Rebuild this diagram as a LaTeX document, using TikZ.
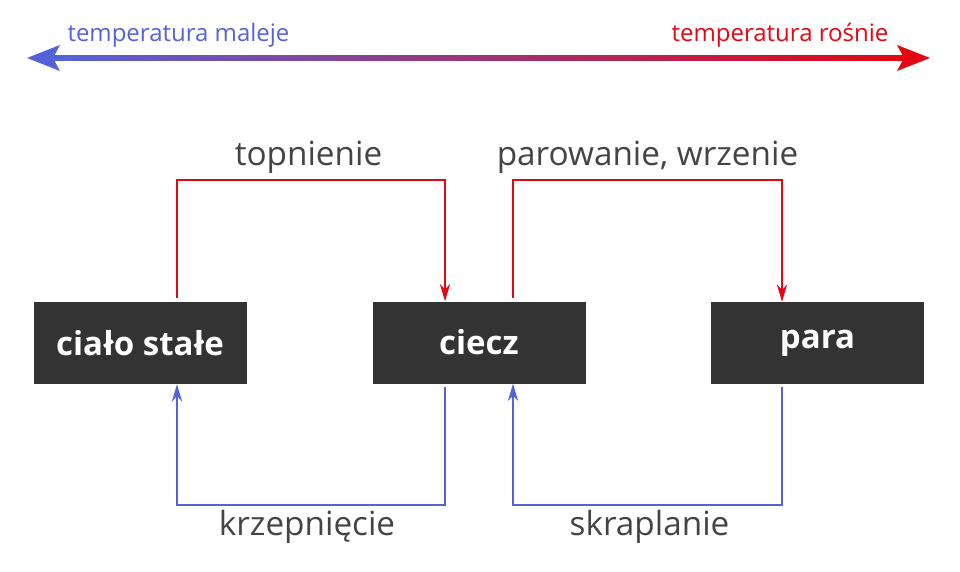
\documentclass[tikz,border=0pt]{standalone}
\usepackage{fontspec}
\setmainfont{Open Sans}
\usetikzlibrary{arrows.meta,calc}
\definecolor{tblue}{HTML}{5563DA}
\definecolor{tred}{HTML}{E30613}
\definecolor{boxc}{HTML}{333333}
\definecolor{labc}{HTML}{444444}
\tikzset{
  state/.style={rectangle, fill=boxc, draw=none, minimum width=213pt, minimum height=82pt,
    inner sep=0pt, text=white, font=\fontsize{33}{40}\selectfont\bfseries},
  proc/.style={inner sep=0pt, anchor=base, text=labc, font=\fontsize{33.3}{40}\selectfont},
  templab/.style={inner sep=0pt, anchor=base, font=\fontsize{24}{29}\selectfont},
  heat/.style={draw=tred, line width=2.2pt, -{Stealth[length=17pt,width=10pt,inset=5pt]}},
  cool/.style={draw=tblue, line width=2.2pt, -{Stealth[length=17pt,width=10pt,inset=5pt]}},
}
\begin{document}
\begin{tikzpicture}[x=1pt,y=-1pt]
\useasboundingbox (0,0) rectangle (960,572);
% temperature axis
\coordinate (L) at (27,58);
\coordinate (R) at (930,58);
\shade[left color=tblue, right color=tred] ($(L)+(25,-2.5)$) rectangle ($(R)+(-25,2.5)$);
\fill[tblue] (L) -- ++(33,-13) -- ++(-7,13) -- ++(7,13) -- cycle;
\fill[tred] (R) -- ++(-33,-13) -- ++(7,13) -- ++(-7,13) -- cycle;
\node[templab, text=tblue] (tm) at (178.5,42) {temperatura maleje};
\node[templab, text=tred] (tr) at (780,42) {temperatura rośnie};
% states
\node[state] (solid) at (140,343) {ciało stałe};
\node[state] (ciecz) at (479,342.5) {ciecz};
\node[state, text depth=8pt] (para) at (817.5,343) {para};
% transitions
\draw[heat] ([xshift=37pt,yshift=4pt]solid.north) -- ++(0,-118) -| ([xshift=-34pt]ciecz.north);
\draw[heat] ([xshift=34pt,yshift=3pt]ciecz.north) -- ++(0,-118) -| ([xshift=-35.5pt]para.north);
\draw[cool] ([xshift=-34pt,yshift=-3pt]ciecz.south) -- ++(0,118) -| ([xshift=37pt]solid.south);
\draw[cool] ([xshift=-35.5pt,yshift=-3pt]para.south) -- ++(0,118) -| ([xshift=34pt]ciecz.south);
% labels
\node[proc] (l1) at (308.5,166) {topnienie};
\node[proc] (l2) at (647.5,166) {parowanie, wrzenie};
\node[proc] (l3) at (307,535) {krzepnięcie};
\node[proc] (l4) at (649.5,535) {skraplanie};
\end{tikzpicture}
\end{document}
